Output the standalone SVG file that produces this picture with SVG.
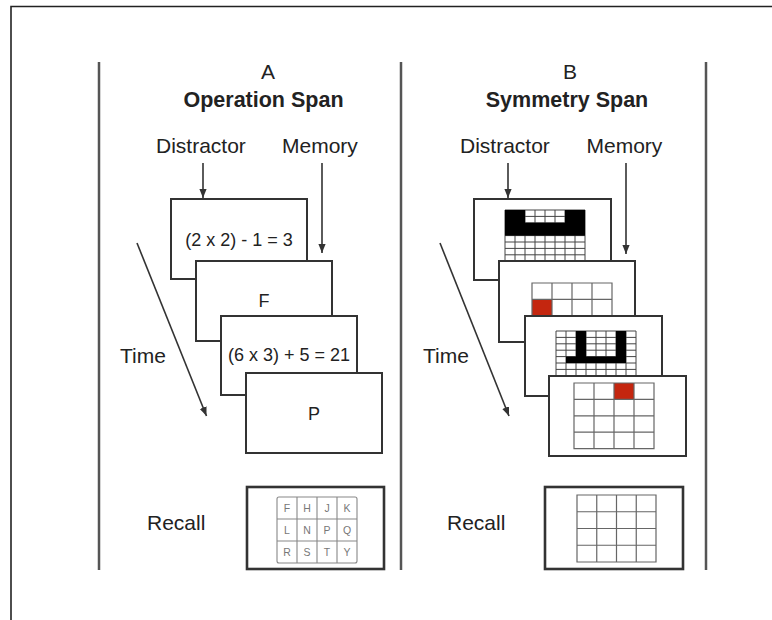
<svg xmlns="http://www.w3.org/2000/svg" width="772" height="620" viewBox="0 0 772 620">
  <style>
    text { font-family: "Liberation Sans", Arial, Helvetica, sans-serif; fill: #222; }
    .lbl { font-size: 21px; }
    .ttl { font-size: 21.5px; font-weight: bold; text-anchor: middle; }
    .let { font-size: 21px; text-anchor: middle; }
    .card { fill: #fff; stroke: #333; stroke-width: 2; }
    .ctext { font-size: 18px; text-anchor: middle; }
    .sep { stroke: #555; stroke-width: 2.5; }
    .arrow { stroke: #333; stroke-width: 1.6; fill: none; marker-end: url(#ah); }
    .grid { fill: none; stroke: #444; stroke-width: 1; }
    .mgrid { fill: none; stroke: #666; stroke-width: 1.2; }
    .rgrid { fill: none; stroke: #888; stroke-width: 1.1; }
    .rl { font-size: 10.5px; fill: #777; text-anchor: middle; }
    .blk { fill: #000; }
    .red { fill: #c4260f; }
    .recall { fill: #fff; stroke: #333; stroke-width: 2.6; }
  </style>
  <defs>
    <marker id="ah" viewBox="0 0 10 10" refX="10" refY="5" markerWidth="9" markerHeight="9" markerUnits="userSpaceOnUse" orient="auto">
      <path d="M0,1 L10,5 L0,9 z" fill="#333"/>
    </marker>
  </defs>
  <rect x="0" y="0" width="772" height="620" fill="#fff"/>
  <g id="frame">
    <path d="M11,620 L11,6.5 L772,6.5" fill="none" stroke="#222" stroke-width="1.6"/>
    <line class="sep" x1="99" y1="62" x2="99" y2="570"/>
    <line class="sep" x1="401" y1="62" x2="401" y2="570"/>
    <line class="sep" x1="706" y1="62" x2="706" y2="570"/>
  </g>

  <g id="panelA-labels">
    <text class="let" x="268" y="79">A</text>
    <text class="ttl" x="263.5" y="107">Operation Span</text>
    <text class="lbl" x="156" y="153">Distractor</text>
    <text class="lbl" x="282" y="153">Memory</text>
    <text class="lbl" x="120" y="363">Time</text>
    <text class="lbl" x="147" y="530">Recall</text>
  </g>
  <g id="panelB-labels">
    <text class="let" x="570" y="79">B</text>
    <text class="ttl" x="567" y="107">Symmetry Span</text>
    <text class="lbl" x="460" y="153">Distractor</text>
    <text class="lbl" x="586.5" y="153">Memory</text>
    <text class="lbl" x="423" y="363">Time</text>
    <text class="lbl" x="447" y="530">Recall</text>
  </g>

  <g id="connectors">
    <line class="arrow" x1="203" y1="163" x2="203" y2="198"/>
    <line class="arrow" x1="322" y1="163" x2="322" y2="253"/>
    <line class="arrow" x1="137" y1="243" x2="206.5" y2="416"/>
    <line class="arrow" x1="508" y1="163" x2="508" y2="198"/>
    <line class="arrow" x1="626" y1="163" x2="626" y2="254"/>
    <line class="arrow" x1="440" y1="243" x2="509" y2="416"/>
  </g>

  <g id="A-card1">
    <rect class="card" x="171" y="199" width="136" height="80"/>
    <text class="ctext" x="239" y="246">(2 x 2) - 1 = 3</text>
  </g>
  <g id="A-card2">
    <rect class="card" x="196" y="261" width="136" height="80"/>
    <text class="ctext" x="264" y="307">F</text>
  </g>
  <g id="A-card3">
    <rect class="card" x="221" y="316" width="136" height="79"/>
    <text class="ctext" x="289" y="361">(6 x 3) + 5 = 21</text>
  </g>
  <g id="A-card4">
    <rect class="card" x="246" y="373" width="136" height="80"/>
    <text class="ctext" x="314" y="420">P</text>
  </g>
  <g id="A-recall">
    <rect class="recall" x="247" y="487" width="137" height="82"/>
    <rect class="rgrid" x="277" y="497" width="80" height="66" rx="2"/>
    <path class="rgrid" d="M297,497V563M317,497V563M337,497V563M277,519H357M277,541H357"/>
    <text class="rl" x="287" y="512">F</text><text class="rl" x="307" y="512">H</text><text class="rl" x="327" y="512">J</text><text class="rl" x="347" y="512">K</text>
    <text class="rl" x="287" y="534">L</text><text class="rl" x="307" y="534">N</text><text class="rl" x="327" y="534">P</text><text class="rl" x="347" y="534">Q</text>
    <text class="rl" x="287" y="556">R</text><text class="rl" x="307" y="556">S</text><text class="rl" x="327" y="556">T</text><text class="rl" x="347" y="556">Y</text>
  </g>

  <g id="B-card1">
    <rect class="card" x="474" y="199" width="137" height="81"/>
    <path class="grid" d="M505,210H585V261.2H505Z M515,210V261.2M525,210V261.2M535,210V261.2M545,210V261.2M555,210V261.2M565,210V261.2M575,210V261.2 M505,216.4H585M505,222.8H585M505,229.2H585M505,235.6H585M505,242H585M505,248.4H585M505,254.8H585"/>
    <rect class="blk" x="505" y="210" width="20" height="25.6"/>
    <rect class="blk" x="565" y="210" width="20" height="25.6"/>
    <rect class="blk" x="525" y="222.8" width="40" height="12.8"/>
  </g>
  <g id="B-card2">
    <rect class="card" x="499" y="261" width="136" height="81"/>
    <rect class="red" x="532" y="299.4" width="20" height="16.4"/>
    <path class="mgrid" d="M532,283H612V348.6H532Z M552,283V348.6M572,283V348.6M592,283V348.6 M532,299.4H612M532,315.8H612M532,332.2H612"/>
  </g>
  <g id="B-card3">
    <rect class="card" x="525" y="316" width="137" height="80"/>
    <path class="grid" d="M556,331H636V382.2H556Z M566,331V382.2M576,331V382.2M586,331V382.2M596,331V382.2M606,331V382.2M616,331V382.2M626,331V382.2 M556,337.4H636M556,343.8H636M556,350.2H636M556,356.6H636M556,363H636M556,369.4H636M556,375.8H636"/>
    <rect class="blk" x="576" y="331" width="10" height="32"/>
    <rect class="blk" x="616" y="331" width="10" height="32"/>
    <rect class="blk" x="566" y="356.6" width="60" height="6.4"/>
  </g>
  <g id="B-card4">
    <rect class="card" x="549" y="376" width="137" height="80"/>
    <rect class="red" x="614" y="383" width="20" height="16.4"/>
    <path class="mgrid" d="M574,383H654V448.6H574Z M594,383V448.6M614,383V448.6M634,383V448.6 M574,399.4H654M574,415.8H654M574,432.2H654"/>
  </g>
  <g id="B-recall">
    <rect class="recall" x="545" y="487" width="138" height="82"/>
    <path class="mgrid" d="M577,495H656V562H577Z M596.75,495V562M616.5,495V562M636.25,495V562 M577,511.75H656M577,528.5H656M577,545.25H656"/>
  </g>
</svg>
